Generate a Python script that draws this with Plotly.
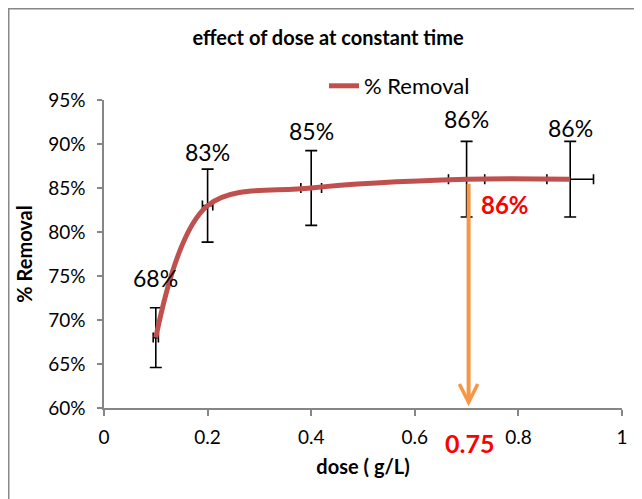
import plotly.graph_objects as go

# ---- data ----
dose = [0.1, 0.2, 0.4, 0.7, 0.9]
removal = [68, 83, 85, 86, 86]
removal_err = [3.4, 4.15, 4.25, 4.3, 4.3]
dose_err = [0.005, 0.01, 0.02, 0.035, 0.045]
labels = ["68%", "83%", "85%", "86%", "86%"]
x_ticks = [0, 0.2, 0.4, 0.6, 0.8, 1]
x_tick_text = ["0", "0.2", "0.4", "0.6", "0.8", "1"]
y_ticks = [60, 65, 70, 75, 80, 85, 90, 95]
y_tick_text = ["60%", "65%", "70%", "75%", "80%", "85%", "90%", "95%"]
highlight_dose_text = "0.75"
highlight_removal_text = "86%"

FONT = "Lato, 'Open Sans', sans-serif"
W, H = 642, 499
OFF = 8  # page body margin of the browser
L, T = 104 - OFF, 100 - OFF
R, B = W - (622 - OFF), H - (408 - OFF)
PW, PH = W - L - R, H - T - B


def cx(px):  # screen px -> container fraction
    return (px - OFF) / W


def cy(py):
    return 1 - (py - OFF) / H


fig = go.Figure()

# error bars (drawn underneath the line)
fig.add_trace(go.Scatter(
    x=dose, y=removal, mode="markers",
    marker=dict(size=1, opacity=0),
    error_y=dict(type="data", array=removal_err, color="black", thickness=1.6, width=6),
    error_x=dict(type="data", array=dose_err, color="black", thickness=1.6, width=5),
    showlegend=False, hoverinfo="skip",
))

# smoothed line
fig.add_trace(go.Scatter(
    x=dose, y=removal, mode="lines", name="% Removal",
    line=dict(color="#C0504D", width=5, shape="spline", smoothing=1.0),
))

annotations = []
label_shift = [60, 54, 57, 60, 51]
for xv, yv, t, s in zip(dose, removal, labels, label_shift):
    annotations.append(dict(x=xv, y=yv, text=t, showarrow=False, yshift=s,
                            font=dict(family=FONT, size=23, color="black")))

# orange arrow from curve down to x-axis
annotations.append(dict(
    x=dose[3], y=60.2, ax=dose[3], ay=removal[3] - 0.35,
    xref="x", yref="y", axref="x", ayref="y",
    text="", showarrow=True, arrowhead=5, arrowsize=0.9, arrowwidth=4,
    arrowcolor="#F79646", xshift=2,
))
annotations.append(dict(
    x=dose[3], y=removal[3], text="<b>" + highlight_removal_text + "</b>",
    showarrow=False, xanchor="left", xshift=12, yshift=-25,
    font=dict(family=FONT, size=24, color="#FF0000"),
))
annotations.append(dict(
    x=dose[3], y=0, yref="paper", text="<b>" + highlight_dose_text + "</b>",
    showarrow=False, xanchor="center", yanchor="middle", xshift=3, yshift=-35,
    font=dict(family=FONT, size=25, color="#FF0000"),
))

fig.update_layout(
    width=W, height=H,
    margin=dict(l=L, r=R, t=T, b=B, autoexpand=False),
    paper_bgcolor="white", plot_bgcolor="white",
    font=dict(family=FONT, size=19, color="black"),
    title=dict(text="<b>effect of dose at constant time</b>", xref="container", yref="container",
               x=cx(328), y=cy(38), xanchor="center", yanchor="middle",
               font=dict(family=FONT, size=20, color="black")),
    showlegend=True,
    legend=dict(orientation="h", xref="container", yref="container",
                x=cx(365) - 41 / W, y=cy(86), xanchor="left", yanchor="middle",
                font=dict(family=FONT, size=22, color="black"), bgcolor="rgba(0,0,0,0)"),
    annotations=annotations,
    shapes=[dict(type="rect", xref="paper", yref="paper",
                 x0=(0.75 - L) / PW, x1=(W + 20 - L) / PW,
                 y0=-(H + 20 - (H - B)) / PH, y1=((H - B) - 0.75) / PH,
                 line=dict(color="#888888", width=1.5), fillcolor="rgba(0,0,0,0)", layer="below")],
)

fig.update_xaxes(
    range=[0, 1], tickvals=x_ticks, ticktext=x_tick_text,
    showline=True, linecolor="#868686", linewidth=1.5, showgrid=False, zeroline=False,
    ticks="outside", ticklen=6, tickcolor="#868686", tickwidth=1.5,
    ticklabelstandoff=5,
    title=dict(text="<b>dose ( g/L)</b>", font=dict(family=FONT, size=20), standoff=13),
)
fig.update_yaxes(
    range=[60, 95], tickvals=y_ticks, ticktext=y_tick_text,
    showline=True, linecolor="#868686", linewidth=1.5, showgrid=False, zeroline=False,
    ticks="outside", ticklen=5, tickcolor="#868686", tickwidth=1.5,
    ticklabelstandoff=8,
    title=dict(text="<b>% Removal</b>", font=dict(family=FONT, size=20), standoff=10),
)

fig.write_html("out.html")
